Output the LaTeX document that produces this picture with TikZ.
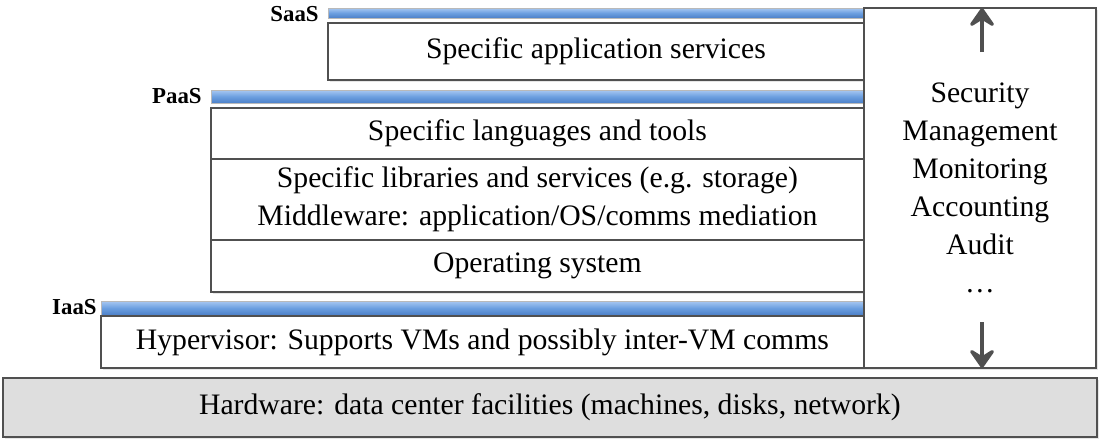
\documentclass[tikz,border=0pt]{standalone}
\usepackage{fontspec}
\setmainfont{Liberation Serif}
\usetikzlibrary{arrows.meta,shadows}

\definecolor{edgegray}{HTML}{505050}
\definecolor{hwgray}{HTML}{DEDEDE}
\definecolor{bartop}{HTML}{A8C8F2}
\definecolor{barmid}{HTML}{6C9FE0}
\definecolor{barbot}{HTML}{4C80C8}

\begin{document}
\begin{tikzpicture}[x=0.02cm, y=-0.02cm,
    layer/.style={rectangle, draw=edgegray, line width=1.2pt, fill=white, anchor=north west, inner sep=0pt, outer sep=0pt, align=center, font=\fontsize{16.9}{21.7}\selectfont, drop shadow={opacity=0.2, shadow xshift=1pt, shadow yshift=-1pt}},
    bar/.style={rectangle, draw=gray!55, line width=0.4pt, anchor=north west, inner sep=0pt, outer sep=0pt, top color=bartop, bottom color=barbot, middle color=barmid},
    tag/.style={anchor=base east, inner sep=0pt, font=\bfseries\fontsize{13}{15}\selectfont},
    updown/.style={draw=edgegray, line width=2.8pt, -{Stealth[length=4.6mm, width=6.4mm, inset=2mm, round]}}
]
\useasboundingbox (0,0) rectangle (1101,441);

% service levels, top to bottom
\node[bar, minimum width=10.72cm, minimum height=0.2cm] (saasbar) at (328,8) {};
\node[tag] (saas) at (319,21) {SaaS};
\node[layer, minimum width=10.72cm, minimum height=1.14cm] (apps) at (328,23) {Specific application services};

\node[bar, minimum width=13.06cm, minimum height=0.26cm] (paasbar) at (211,90) {};
\node[tag] (paas) at (202,103) {PaaS};
\node[layer, minimum width=13.06cm, minimum height=1.02cm] (langs) at (211,108) {Specific languages and tools};
\node[layer, minimum width=13.06cm, minimum height=1.62cm] (libs)  at (211,159) {Specific libraries and services (e.g. storage)\\Middleware: application/OS/comms mediation};
\node[layer, minimum width=13.06cm, minimum height=1.04cm] (os)    at (211,240) {Operating system};

\node[bar, minimum width=15.26cm, minimum height=0.28cm] (iaasbar) at (101,301) {};
\node[tag] (iaas) at (97,314) {IaaS};
\node[layer, minimum width=15.26cm, minimum height=1.04cm] (hyper) at (101,316) {Hypervisor: Supports VMs and possibly inter-VM comms};

% cross-cutting column and the hardware base
\node[layer, minimum width=4.64cm, minimum height=7.2cm] (mgmt) at (864,8) {Security\\Management\\Monitoring\\Accounting\\Audit\\\dots};
\node[layer, fill=hwgray, minimum width=21.88cm, minimum height=1.18cm] (hw) at (3,378) {Hardware: data center facilities (machines, disks, network)};

\coordinate (uptail) at (982,52);
\coordinate (downtail) at (982,322);
\draw[updown] (uptail) -- (mgmt.north -| uptail);
\draw[updown] (downtail) -- (mgmt.south -| downtail);
\end{tikzpicture}
\end{document}
